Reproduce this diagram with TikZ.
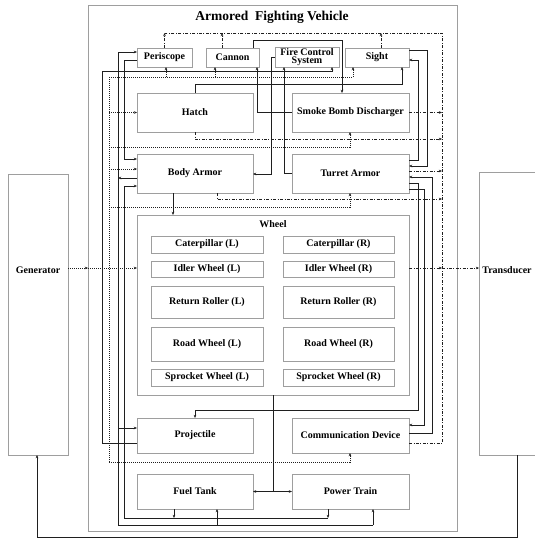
\documentclass[tikz,border=0pt]{standalone}
\usepackage{fontspec}
\setmainfont{Liberation Serif}
\usetikzlibrary{arrows.meta}
\definecolor{boxgray}{gray}{0.62}
\definecolor{linec}{gray}{0.12}
\begin{document}
\begin{tikzpicture}[x=1pt,y=-1pt,
  >={Stealth[length=3.2pt,width=2.6pt]},
  box/.style={draw=boxgray, line width=0.8pt, inner sep=0pt, outer sep=0pt, align=center,
              font=\fontsize{10}{8.5}\selectfont\bfseries},
  lbl/.style={inner sep=0pt, font=\fontsize{10}{10}\selectfont\bfseries},
  sol/.style={draw=linec, line width=0.75pt},
  mat/.style={draw=linec, line width=0.75pt, dash pattern=on 1pt off 1pt},
  sig/.style={draw=linec, line width=0.75pt, dash pattern=on 3pt off 1.5pt on 0.9pt off 1.5pt}]
\useasboundingbox (0,0) rectangle (535,541);
\fill[white] (0,0) rectangle (535,541);

% ---------- boxes ----------
\node[box, minimum width=369pt, minimum height=526pt] (afv) at (272.5,268) {};
\node[lbl, font=\fontsize{13.5}{14}\selectfont\bfseries] (title) at (272,17) {Armored\ \ Fighting Vehicle};

\node[box, minimum width=55pt, minimum height=19pt] (peri)   at (164.5,57.5) {Periscope};
\node[box, minimum width=53pt, minimum height=19pt] (cannon) at (232.5,57.5) {Cannon};
\node[box, minimum width=64pt, minimum height=20pt] (fcs)    at (307,57)     {Fire Control\\System};
\node[box, minimum width=64pt, minimum height=19pt] (sight)  at (377,57.5)   {Sight};

\node[box, minimum width=116pt, minimum height=39pt] (hatch)  at (195,112.5)   {Hatch};
\node[box, minimum width=117pt, minimum height=39pt] (smoke)  at (350.5,112.5) {Smoke Bomb Discharger};
\node[box, minimum width=116pt, minimum height=39pt] (body)   at (195,173.5)   {Body Armor};
\node[box, minimum width=117pt, minimum height=39pt] (turret) at (350.5,173.5) {Turret Armor};

\node[box, minimum width=272pt, minimum height=180pt] (wheel) at (273,305) {};
\node[lbl] (wlabel) at (273,224) {Wheel};
\node[box, minimum width=112pt, minimum height=17pt] (catL)  at (207,244.5)   {Caterpillar (L)};
\node[box, minimum width=111pt, minimum height=17pt] (catR)  at (338.5,244.5) {Caterpillar (R)};
\node[box, minimum width=112pt, minimum height=16pt] (idlL)  at (207,269)     {Idler Wheel (L)};
\node[box, minimum width=111pt, minimum height=16pt] (idlR)  at (338.5,269)   {Idler Wheel (R)};
\node[box, minimum width=112pt, minimum height=32pt] (retL)  at (207,302)     {Return Roller (L)};
\node[box, minimum width=111pt, minimum height=32pt] (retR)  at (338.5,302)   {Return Roller (R)};
\node[box, minimum width=112pt, minimum height=34pt] (roadL) at (207,344)     {Road Wheel (L)};
\node[box, minimum width=111pt, minimum height=34pt] (roadR) at (338.5,344)   {Road Wheel (R)};
\node[box, minimum width=112pt, minimum height=17pt] (sprL)  at (207,377.5)   {Sprocket Wheel (L)};
\node[box, minimum width=111pt, minimum height=17pt] (sprR)  at (338.5,377.5) {Sprocket Wheel (R)};

\node[box, minimum width=116pt, minimum height=35pt] (proj)  at (195,435.5)   {Projectile};
\node[box, minimum width=117pt, minimum height=35pt] (comm)  at (350.5,435.5) {Communication Device};
\node[box, minimum width=116pt, minimum height=35pt] (fuel)  at (195,491.5)   {Fuel Tank};
\node[box, minimum width=117pt, minimum height=35pt] (power) at (350.5,491.5) {Power Train};

\node[box, minimum width=60pt, minimum height=281pt] (gen)   at (38,314.5) {};
\node[lbl] (genl) at (38,270) {Generator};
\node[box, minimum width=62pt, minimum height=283pt] (trans) at (510,313.5) {};
\node[lbl] (transl) at (507,270) {Transducer};

% ---------- signal (dash-dot) ----------
\coordinate (sT) at (442,33);
\draw[sig] (comm.east |- 0,443) -- (442,443) -- (sT) -- (peri.north |- sT);
\draw[sig,->] (peri.north) -- (peri.north |- sT);
\draw[sig,->] (cannon.north -| 222,0) -- (222,33);
\draw[sig,->] (sight.north -| 381,0) -- (381,33);
\draw[sig,->] (smoke.east) -- (smoke.east -| sT);
\draw[sig,->] (hatch.south) -- (195,139) -- (442,139);
\draw[sig,->] (turret.east |- 0,171) -- (442,171);
\draw[sig,->] (body.south -| 217,0) -- (217,199) -- (442,199);
\draw[sig,->] (wheel.east |- 0,268) -- (442,268);
\draw[sig,->] (442,268) -- (trans.west |- 0,268);

% ---------- material (dotted) ----------
\draw[mat,->] (gen.east |- 0,268) -- (88,268);
\draw[mat,->] (88,268) -- (wheel.west |- 0,268);
\draw[mat] (109,77) -- (109,462);
\draw[mat,->] (109,77) -- (353,77) -- (sight.south -| 353,0);
\draw[mat,->] (166,77) -- (peri.south -| 166,0);
\draw[mat,->] (215,77) -- (cannon.south -| 215,0);
\draw[mat,->] (109,112.5) -- (hatch.west);
\draw[mat,->] (109,147) -- (350,147) -- (smoke.south -| 350,0);
\draw[mat,->] (109,169) -- (body.west |- 0,169);
\draw[mat,->] (109,207) -- (350,207) -- (turret.south -| 350,0);
\draw[mat,->] (109,462) -- (350,462) -- (comm.south -| 350,0);

% ---------- energy (solid) ----------
\draw[sol,->] (proj.west |- 0,443) -- (102,443) -- (102,71) -- (332,71) -- (fcs.south -| 332,0);
\draw[sol,->] (body.west |- 0,178) -- (118,178);
\draw[sol,->] (118,178) -- (118,52) -- (peri.west |- 0,52);
\draw[sol] (118,178) -- (118,525) -- (373,525);
\draw[sol,->] (373,525) -- (power.south -| 373,0);
\draw[sol,->] (217,525) -- (fuel.south -| 217,0);
\draw[sol,->] (118,428) -- (proj.west |- 0,428);
\draw[sol,->] (peri.west |- 0,60) -- (124,60) -- (124,159) -- (body.west |- 0,159);
\draw[sol,->] (fuel.south -| 174,0) -- (174,518);
\draw[sol,->] (power.south -| 328,0) -- (328,518);
\draw[sol,->] (328,518) -- (124,518) -- (124,186) -- (body.west |- 0,186);
\draw[sol,->] (body.south -| 173,0) -- (wheel.north -| 173,0);
\draw[sol,->] (cannon.north -| 253,0) -- (253,40) -- (342,40) -- (smoke.north -| 342,0);
\draw[sol,->] (smoke.west) -- (257,112.5) -- (cannon.south -| 257,0);
\draw[sol,->] (fcs.west) -- (271,57) -- (271,174) -- (body.east |- 0,174);
\draw[sol,->] (turret.west |- 0,173) -- (284,173) -- (fcs.south -| 284,0);
\draw[sol,->] (hatch.north) -- (195,84) -- (402,84) -- (sight.south -| 402,0);
\draw[sol,->] (sight.east |- 0,50) -- (427,50) -- (427,166) -- (turret.east |- 0,166);
\draw[sol,->] (turret.east |- 0,160) -- (418,160) -- (418,60) -- (sight.east |- 0,60);
\draw[sol,->] (turret.east |- 0,183) -- (418,183) -- (418,410) -- (195,410) -- (proj.north);
\draw[sol,->] (comm.east |- 0,433) -- (432,433) -- (432,177) -- (turret.east |- 0,177);
\draw[sol,->] (turret.east |- 0,189) -- (424,189) -- (424,425) -- (comm.east |- 0,425);
\draw[sol] (wheel.south) -- (273,491.5);
\draw[sol,<->] (fuel.east) -- (power.west);
\draw[sol,->] (trans.south -| 517,0) -- (517,537) -- (37,537) -- (gen.south -| 37,0);
\end{tikzpicture}
\end{document}
